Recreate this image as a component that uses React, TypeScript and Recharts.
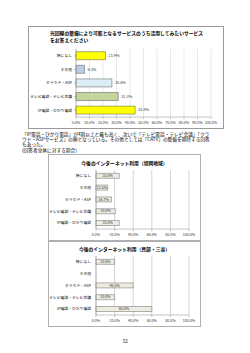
import React from "react";
import { BarChart, Bar, XAxis, YAxis, CartesianGrid, LabelList, Cell } from "recharts";

const categories = ["特になし", "その他", "クラウド・ASP", "テレビ電話・テレビ会議", "IP電話・ひかり電話"];
const allValues = [21.9, 6.3, 26.6, 31.3, 43.8];
const allColors = ["#FFFF00", "#B9CDE5", "#DBEEF4", "#C3D69B", "#FFFF00"];
const areaAValues = [25.0, 12.5, 16.7, 20.8, 25.0];
const areaBValues = [20.0, 0.0, 40.0, 20.0, 60.0];
const ticks10 = [0, 10, 20, 30, 40, 50, 60, 70, 80, 90, 100];
const ticks20 = [0, 20, 40, 60, 80, 100];

const title1 = ["光回線の整備により可能となるサービスのうち活用してみたいサービス", "をお答えください"];
const title2 = "今後のインターネット利用（堤岡地域）";
const title3 = "今後のインターネット利用（民部・三谷）";
const paragraph = [
  "「IP電話・ひかり電話」が4割以上と最も高く、次いで「テレビ電話・テレビ会議」「クラ",
  "ウド・ASPサービス」の順となっている。その他としては「CATV」の整備を期待する回答",
  "もあった。",
  "(回答者全体に対する割合)",
];
const pageNumber = "32";

const FONT = '"Noto Sans CJK JP", "Noto Sans", sans-serif';
const pct = (v: any) => `${Number(v).toFixed(1)}%`;

const build = (vals: number[]) => categories.map((c, i) => ({ name: c, value: vals[i] }));

export default function App() {
  const d1 = build(allValues);
  const d2 = build(areaAValues);
  const d3 = build(areaBValues);
  return (
    <div style={{ position: "absolute", left: 0, top: 0, width: 250, height: 353, background: "#fff", fontFamily: FONT }}>
      {/* Chart 1 */}
      <div style={{ position: "absolute", left: 28, top: 26, width: 194, height: 101, border: "1px solid #9a9a9a" }} />
      <div style={{ position: "absolute", left: 50, top: 30, fontSize: 4.8, fontWeight: "bold", lineHeight: "6.5px", color: "#000", whiteSpace: "nowrap" }}>
        {title1.map((t, i) => <div key={i}>{t}</div>)}
      </div>
      <div style={{ position: "absolute", left: 28, top: 26 }}>
        <BarChart width={195} height={102} data={d1} layout="vertical" margin={{ top: 23, right: 12, bottom: 0, left: 0 }} barCategoryGap="20%">
          <CartesianGrid horizontal={false} stroke="#d0d0d0" strokeWidth={0.5} />
          <XAxis type="number" domain={[0, 100]} ticks={ticks10} tickFormatter={pct} interval={0} height={11} tick={{ fontSize: 3.6, fill: "#333", fontFamily: FONT }} tickSize={2} axisLine={{ stroke: "#888", strokeWidth: 0.5 }} tickLine={{ stroke: "#888", strokeWidth: 0.5 }} />
          <YAxis type="category" dataKey="name" width={48} interval={0} tick={{ fontSize: 3.8, fill: "#000", fontFamily: FONT }} tickSize={2} axisLine={{ stroke: "#888", strokeWidth: 0.5 }} tickLine={{ stroke: "#888", strokeWidth: 0.5 }} />
          <Bar dataKey="value" isAnimationActive={false} stroke="#555" strokeWidth={0.5}>
            {d1.map((_, i) => <Cell key={i} fill={allColors[i]} />)}
            <LabelList dataKey="value" position="right" offset={3} formatter={pct} style={{ fontSize: 3.8, fill: "#333", fontFamily: FONT }} />
          </Bar>
        </BarChart>
      </div>

      {/* Paragraph */}
      <div style={{ position: "absolute", left: 22, top: 132, fontSize: 4.7, lineHeight: "5.2px", color: "#000", whiteSpace: "nowrap" }}>
        {paragraph.map((t, i) => <div key={i}>{t}</div>)}
      </div>

      {/* Chart 2 */}
      <div style={{ position: "absolute", left: 48, top: 154, width: 151, height: 85, border: "1px solid #b0b0b0" }} />
      <div style={{ position: "absolute", left: 48, top: 159, width: 153, textAlign: "center", fontSize: 4.8, fontWeight: "bold", whiteSpace: "nowrap" }}>{title2}</div>
      <div style={{ position: "absolute", left: 48, top: 154 }}>
        <BarChart width={152} height={86} data={d2} layout="vertical" margin={{ top: 16, right: 11, bottom: 0, left: 0 }} barCategoryGap="28%">
          <CartesianGrid horizontal={false} stroke="#a8a8a8" strokeWidth={0.5} />
          <XAxis type="number" domain={[0, 100]} ticks={ticks20} tickFormatter={pct} interval={0} height={11} tick={{ fontSize: 3.6, fill: "#333", fontFamily: FONT }} tickSize={2} axisLine={{ stroke: "#888", strokeWidth: 0.5 }} tickLine={{ stroke: "#888", strokeWidth: 0.5 }} />
          <YAxis type="category" dataKey="name" width={48} interval={0} tick={{ fontSize: 3.8, fill: "#000", fontFamily: FONT }} tickSize={3} axisLine={{ stroke: "#888", strokeWidth: 0.5 }} tickLine={false} />
          <Bar dataKey="value" isAnimationActive={false} fill="#EEECE1" stroke="#666" strokeWidth={0.5}>
            <LabelList dataKey="value" position="center" formatter={pct} style={{ fontSize: 3.6, fill: "#333", fontFamily: FONT }} />
          </Bar>
        </BarChart>
      </div>

      {/* Chart 3 */}
      <div style={{ position: "absolute", left: 48, top: 241, width: 151, height: 84, border: "1px solid #b0b0b0" }} />
      <div style={{ position: "absolute", left: 48, top: 245, width: 153, textAlign: "center", fontSize: 4.8, fontWeight: "bold", whiteSpace: "nowrap" }}>{title3}</div>
      <div style={{ position: "absolute", left: 48, top: 241 }}>
        <BarChart width={152} height={85} data={d3} layout="vertical" margin={{ top: 15, right: 11, bottom: 0, left: 0 }} barCategoryGap="28%">
          <CartesianGrid horizontal={false} stroke="#a8a8a8" strokeWidth={0.5} />
          <XAxis type="number" domain={[0, 100]} ticks={ticks20} tickFormatter={pct} interval={0} height={11} tick={{ fontSize: 3.6, fill: "#333", fontFamily: FONT }} tickSize={2} axisLine={{ stroke: "#888", strokeWidth: 0.5 }} tickLine={{ stroke: "#888", strokeWidth: 0.5 }} />
          <YAxis type="category" dataKey="name" width={48} interval={0} tick={{ fontSize: 3.8, fill: "#000", fontFamily: FONT }} tickSize={3} axisLine={{ stroke: "#888", strokeWidth: 0.5 }} tickLine={false} />
          <Bar dataKey="value" isAnimationActive={false} fill="#EEECE1" stroke="#666" strokeWidth={0.5}>
            <LabelList dataKey="value" position="center" formatter={pct} style={{ fontSize: 3.6, fill: "#333", fontFamily: FONT }} />
          </Bar>
        </BarChart>
      </div>

      <div style={{ position: "absolute", left: 0, width: 250, top: 337, textAlign: "center", fontSize: 5, color: "#333" }}>{pageNumber}</div>
    </div>
  );
}
